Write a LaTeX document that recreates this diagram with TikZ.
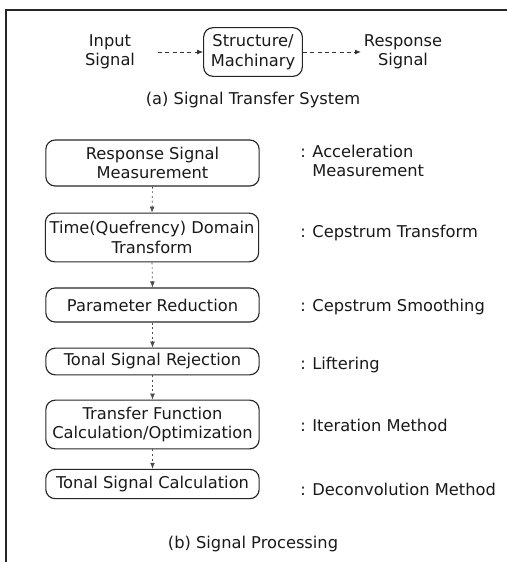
\documentclass[tikz,border=0pt]{standalone}
\usepackage{fontspec}
\setmainfont{DejaVu Sans}
\usetikzlibrary{arrows.meta}
\begin{document}
\begin{tikzpicture}[x=0.75pt,y=-0.75pt,
  every node/.style={font=\fontsize{12.2}{14.6}\selectfont, text=black!90},
  procbox/.style={draw=black!85, line width=0.85pt, rounded corners=7pt, minimum width=160pt, align=center, inner sep=0.5pt},
  txt/.style={align=center, inner sep=1pt},
  lab/.style={anchor=west, inner sep=0pt},
  flow/.style={draw=black!80, line width=0.6pt, dash pattern=on 3pt off 2.5pt, -{Latex[length=4.5pt,width=3.6pt]}},
  vflow/.style={draw=black!70, line width=0.5pt, dash pattern=on 1.5pt off 2pt, -{Latex[length=4.5pt,width=3.6pt]}}]
\useasboundingbox (0,0) rectangle (507,562);
% frame
\draw[line width=0.9pt, black!85] (507,10) -- (6,10) -- (6,562);
% (a)
\node[txt] (in) at (110,52) {Input\\Signal};
\node[procbox, minimum width=74pt, minimum height=36.5pt] (st) at (253,52) {Structure/\\Machinary};
\node[txt] (resp) at (403,52) {Response\\Signal};
\coordinate (inout) at (158,52);
\draw[flow] (inout) -- (st.west);
\draw[flow, shorten >=1pt] (st.east) -- (resp.west);
\node[txt] (capa) at (253,100) {(a) Signal Transfer System};
% (b)
\node[procbox, minimum height=34.5pt] (b1) at (152.5,163) {Response Signal\\Measurement};
\node[procbox, minimum height=36.5pt] (b2) at (152,237.5) {Time(Quefrency) Domain\\Transform};
\node[procbox, minimum height=25.5pt] (b3) at (152.5,305) {Parameter Reduction};
\node[procbox, minimum height=20pt] (b4) at (152.5,361.5) {Tonal Signal Rejection};
\node[procbox, minimum height=36.5pt] (b5) at (152.5,424.5) {Transfer Function\\Calculation/Optimization};
\node[procbox, minimum height=22pt] (b6) at (152.5,484) {Tonal Signal Calculation};
\draw[vflow] (b1.south) -- (b2.north);
\draw[vflow] (b2.south) -- (b3.north);
\draw[vflow] (b3.south) -- (b4.north);
\draw[vflow] (b4.south) -- (b5.north);
\draw[vflow] (b5.south) -- (b6.north);
\node[lab] (l1) at (300,163) {\begin{tabular}{@{}l@{\hspace{5pt}}l@{}}:&Acceleration\\&Measurement\end{tabular}};
\node[lab] (l2) at (300,233) {:\hspace{5pt}Cepstrum Transform};
\node[lab] (l3) at (300,307) {:\hspace{5pt}Cepstrum Smoothing};
\node[lab] (l4) at (300,365) {:\hspace{5pt}Liftering};
\node[lab] (l5) at (300,425) {:\hspace{5pt}Iteration Method};
\node[lab] (l6) at (300,489) {:\hspace{5pt}Deconvolution Method};
\node[txt] (capb) at (253,544) {(b) Signal Processing};
\end{tikzpicture}
\end{document}
